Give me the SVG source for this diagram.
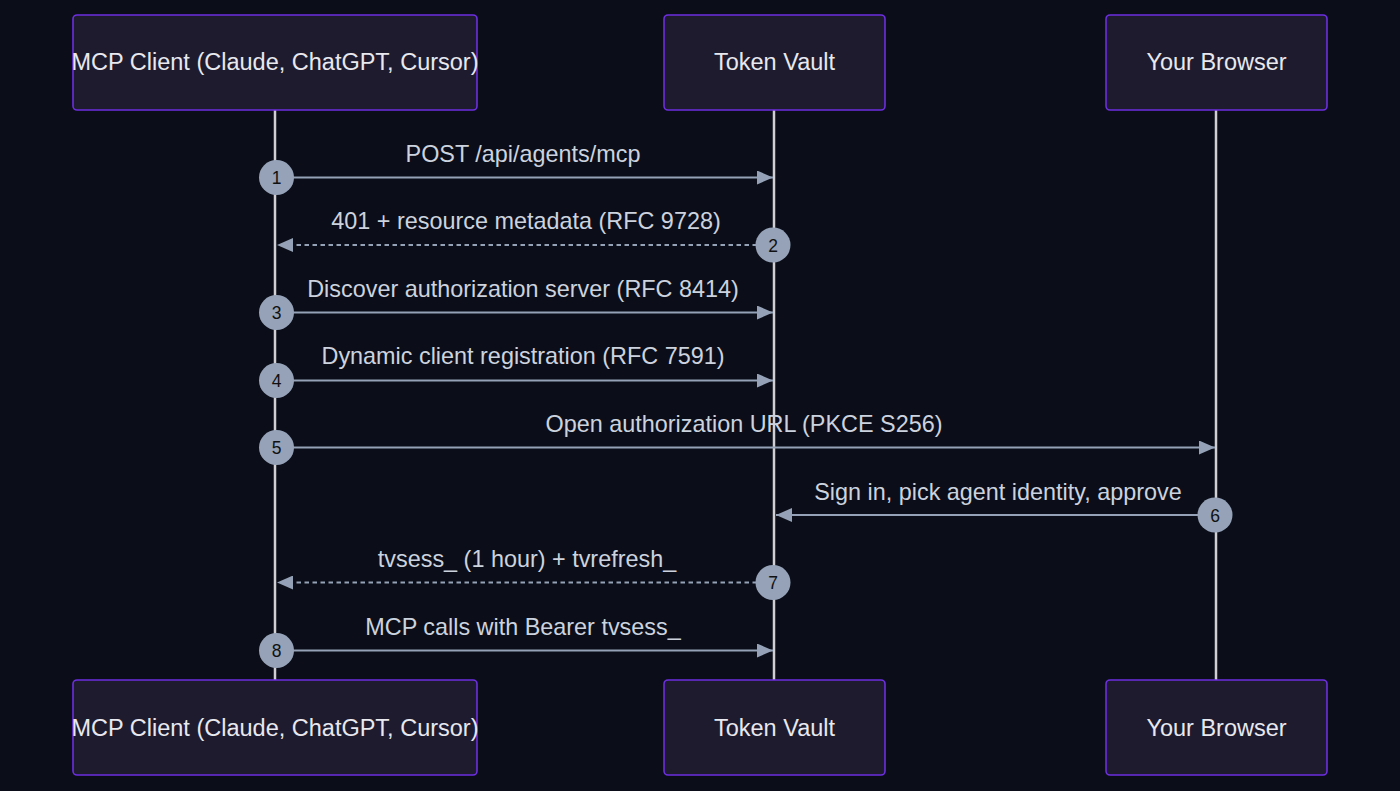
<svg xmlns="http://www.w3.org/2000/svg" width="1400" height="791" viewBox="0 0 1400 791">
<style>
.actor rect{fill:#1e1b2e;stroke:#6d2ee0;stroke-width:1.6}
.actor text{font-family:"Liberation Sans",Arial,sans-serif;font-size:23.5px;fill:#e8e8ee;text-anchor:middle;dominant-baseline:central}
.life{stroke:#d0d0d4;stroke-width:2.5}
.msg{stroke:#94a1b6;stroke-width:2;fill:none}
.dash{stroke-dasharray:4.5,3.5}
.lbl{font-family:"Liberation Sans",Arial,sans-serif;font-size:23.4px;fill:#ccd3df;text-anchor:middle}
.num circle{fill:#95a2b8}
.num text{font-family:"Liberation Sans",Arial,sans-serif;font-size:17.5px;fill:#111;text-anchor:middle;dominant-baseline:central}
</style>
<defs>
<marker id="ah" viewBox="0 0 16 14" refX="16" refY="7" markerWidth="16" markerHeight="14" markerUnits="userSpaceOnUse" orient="auto">
<path d="M0,0 L16,7 L0,14 z" fill="#94a1b6"/>
</marker>
</defs>
<rect width="1400" height="791" fill="#0b0e18"/>
<g id="lifelines">
<line class="life" x1="275" y1="110" x2="275" y2="680"/>
<line class="life" x1="774" y1="110" x2="774" y2="680"/>
<line class="life" x1="1216" y1="110" x2="1216" y2="680"/>
</g>
<g id="client-top" class="actor"><rect x="73" y="15" width="404" height="95" rx="4"/><text x="275" y="62">MCP Client (Claude, ChatGPT, Cursor)</text></g>
<g id="vault-top" class="actor"><rect x="664" y="15" width="221" height="95" rx="4"/><text x="774.5" y="62">Token Vault</text></g>
<g id="browser-top" class="actor"><rect x="1106" y="15" width="221" height="95" rx="4"/><text x="1216.5" y="62">Your Browser</text></g>
<g id="client-bottom" class="actor"><rect x="73" y="680" width="404" height="95" rx="4"/><text x="275" y="728">MCP Client (Claude, ChatGPT, Cursor)</text></g>
<g id="vault-bottom" class="actor"><rect x="664" y="680" width="221" height="95" rx="4"/><text x="774.5" y="728">Token Vault</text></g>
<g id="browser-bottom" class="actor"><rect x="1106" y="680" width="221" height="95" rx="4"/><text x="1216.5" y="728">Your Browser</text></g>
<g id="connectors">
<line class="msg" x1="276" y1="177.5" x2="773" y2="177.5" marker-end="url(#ah)"/>
<text class="lbl" x="523" y="162">POST /api/agents/mcp</text>
<line class="msg dash" x1="773" y1="245" x2="277" y2="245" marker-end="url(#ah)"/>
<text class="lbl" x="526" y="229">401 + resource metadata (RFC 9728)</text>
<line class="msg" x1="276" y1="312.5" x2="773" y2="312.5" marker-end="url(#ah)"/>
<text class="lbl" x="523" y="297">Discover authorization server (RFC 8414)</text>
<line class="msg" x1="276" y1="380.5" x2="773" y2="380.5" marker-end="url(#ah)"/>
<text class="lbl" x="523" y="364">Dynamic client registration (RFC 7591)</text>
<line class="msg" x1="276" y1="447.5" x2="1215" y2="447.5" marker-end="url(#ah)"/>
<text class="lbl" x="744" y="432">Open authorization URL (PKCE S256)</text>
<line class="msg" x1="1214" y1="515" x2="776" y2="515" marker-end="url(#ah)"/>
<text class="lbl" x="998" y="500">Sign in, pick agent identity, approve</text>
<line class="msg dash" x1="773" y1="582.5" x2="277" y2="582.5" marker-end="url(#ah)"/>
<text class="lbl" x="527" y="567">tvsess_ (1 hour) + tvrefresh_</text>
<line class="msg" x1="276" y1="650.5" x2="773" y2="650.5" marker-end="url(#ah)"/>
<text class="lbl" x="523" y="635">MCP calls with Bearer tvsess_</text>
</g>
<g id="numbers" class="num">
<g><circle cx="276.5" cy="177.5" r="17.5"/><text x="276.5" y="178">1</text></g>
<g><circle cx="773" cy="245" r="17.5"/><text x="773" y="245.5">2</text></g>
<g><circle cx="276.5" cy="312.5" r="17.5"/><text x="276.5" y="313">3</text></g>
<g><circle cx="276.5" cy="380.5" r="17.5"/><text x="276.5" y="381">4</text></g>
<g><circle cx="276.5" cy="447.5" r="17.5"/><text x="276.5" y="448">5</text></g>
<g><circle cx="1215" cy="515" r="17.5"/><text x="1215" y="515.5">6</text></g>
<g><circle cx="773" cy="582.5" r="17.5"/><text x="773" y="583">7</text></g>
<g><circle cx="276.5" cy="650.5" r="17.5"/><text x="276.5" y="651">8</text></g>
</g>
</svg>
